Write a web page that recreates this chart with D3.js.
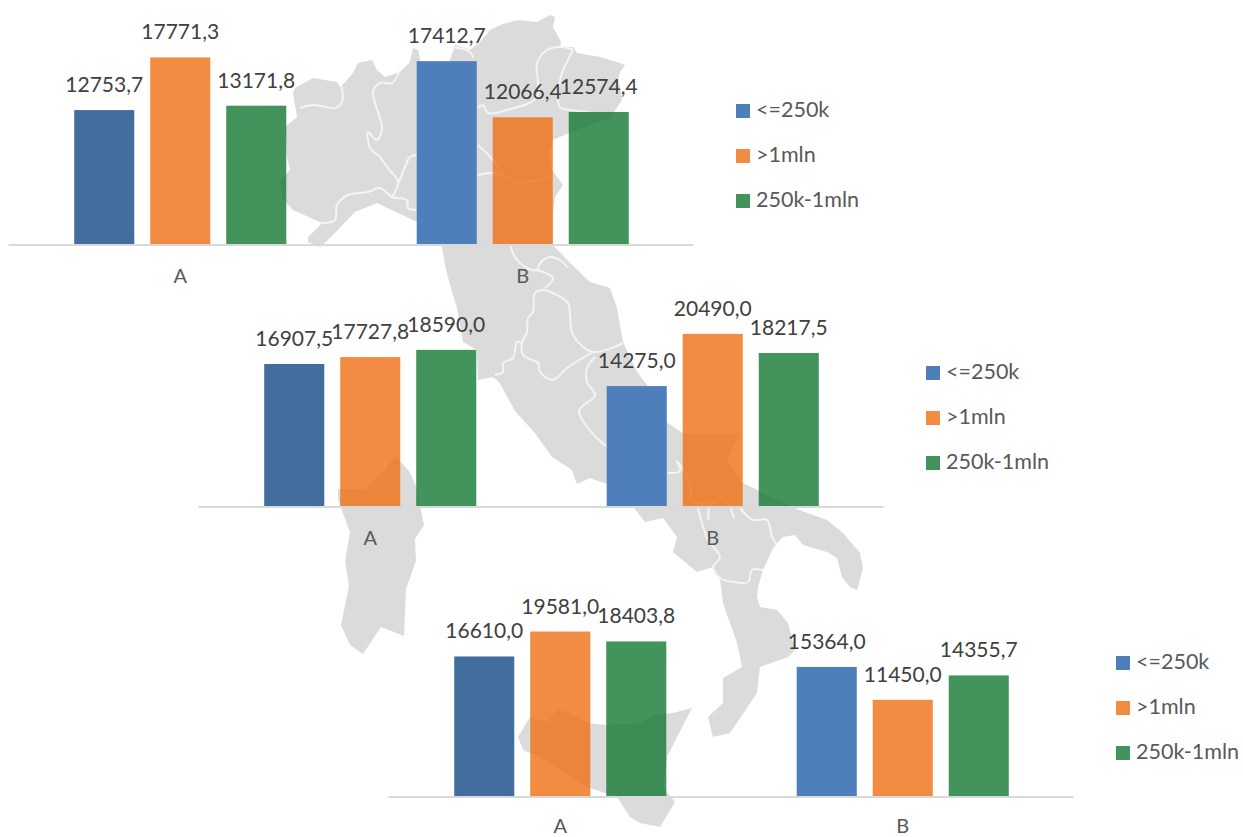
<!DOCTYPE html>
<html>
<head>
<meta charset="utf-8">
<script src="https://cdn.jsdelivr.net/npm/d3@7/dist/d3.min.js"></script>
<style>
html,body{margin:0;padding:0;background:#fff;overflow:hidden}
svg{display:block}
text{font-family:Lato,"Open Sans",sans-serif}
</style>
</head>
<body>
<svg id="chart" width="1243" height="837"></svg>
<script>
// ---------- chart data ----------
const categories = ["A", "B"];
const seriesNames = ["<=250k", ">1mln", "250k-1mln"];
const panel1Values = [[12753.7, 17771.3, 13171.8], [17412.7, 12066.4, 12574.4]];
const panel2Values = [[16907.5, 17727.8, 18590.0], [14275.0, 20490.0, 18217.5]];
const panel3Values = [[16610.0, 19581.0, 18403.8], [15364.0, 11450.0, 14355.7]];
const panelMax = [20000, 25000, 25000];

// ---------- decorative background map of Italy (page pixels) ----------
const mainland = [[293,93],[295,88],[313,78],[337,82],[342,90],[340,88],[353,73],[358,63],[372,60],[377,70],[385,77],[400,72],[410,62],[413,48],[418,50],[420,60],[430,75],[450,60],[455,45],[470,50],[480,42],[490,30],[500,25],[517,20],[537,22],[550,15],[555,17],[553,27],[561,42],[560,47],[573,47],[577,53],[600,57],[617,62],[625,65],[620,72],[618,80],[620,88],[622,100],[610,118],[590,125],[569,133],[553,140],[549,155],[552,170],[563,185],[555,197],[553,215],[553,245],[570,263],[590,282],[610,288],[617,308],[623,342],[637,372],[647,385],[668,423],[684,434],[738,434],[727,461],[741,482],[759,491],[799,510],[827,520],[843,533],[860,553],[863,568],[857,590],[850,587],[842,577],[837,558],[827,552],[803,545],[795,535],[783,537],[773,548],[763,570],[758,587],[757,597],[760,607],[777,610],[788,623],[795,650],[788,657],[760,667],[757,693],[730,733],[713,737],[708,717],[723,703],[723,678],[742,667],[737,643],[723,603],[720,580],[713,567],[697,572],[673,552],[677,537],[663,518],[645,522],[634,508],[607,484],[590,478],[577,484],[572,470],[552,457],[534,432],[515,411],[499,382],[493,377],[478,380],[477,350],[463,342],[457,308],[450,285],[445,265],[442,247],[417,222],[377,203],[355,212],[330,238],[320,247],[308,242],[308,237],[322,223],[293,210],[282,198],[280,180],[290,170],[287,157],[285,127],[297,117]];
const sardinia = [[395,456],[409,471],[416,486],[424,525],[415,539],[416,561],[406,589],[404,636],[381,627],[363,654],[350,645],[341,625],[349,586],[345,561],[350,532],[338,500],[338,489],[366,489],[384,471]];
const sicily = [[518,737],[530,717],[547,722],[557,710],[568,712],[587,723],[607,725],[640,723],[653,715],[673,713],[692,708],[677,737],[667,757],[663,787],[675,802],[660,827],[640,823],[630,817],[617,797],[587,787],[540,757],[523,750]];
const borders = [
 [[300,108],[313,105],[327,107],[335,108],[342,102],[342,87]],
 [[400,70],[392,83],[380,83],[373,92],[375,103],[382,128],[377,140],[368,132],[370,148],[380,157],[387,167],[398,182],[392,197]],
 [[397,187],[405,167],[410,157],[417,155]],
 [[320,223],[335,220],[337,205],[348,195],[368,192],[380,188],[392,197],[407,200],[408,208],[417,210]],
 [[453,47],[470,52],[473,58]],
 [[478,108],[483,105],[488,113],[507,110],[537,97],[537,63],[547,50],[563,47],[573,50]],
 [[573,50],[560,80],[560,107],[570,110],[590,112]],
 [[478,175],[497,173],[520,182],[550,177]],
 [[478,145],[493,160],[507,180]],
 [[510,245],[515,257],[527,268],[537,270],[540,263],[550,257],[560,260],[568,268]],
 [[537,270],[553,278],[545,288]],
 [[545,290],[535,293],[533,312],[528,318],[527,332],[522,343],[523,355],[538,363],[540,372],[553,380],[567,368],[593,352]],
 [[545,290],[557,295],[568,303],[570,315],[573,335],[593,352],[623,343]],
 [[522,343],[517,342],[513,358],[503,363],[503,372],[495,375]],
 [[595,357],[587,368],[587,382],[595,395],[579,411],[595,436],[606,446]],
 [[668,473],[680,471],[677,461],[691,486],[691,500],[709,504],[724,498],[734,518]],
 [[709,504],[708,520]],
 [[698,508],[702,523],[708,540],[720,557],[713,567],[720,578],[733,582],[748,582],[752,570],[763,570]],
 [[740,508],[753,520],[767,520],[772,537],[777,545]]
];

// ---------- layout ----------
const panels = [
  {values: panel1Values, left: 8,   base: 244, labelGap: 24},
  {values: panel2Values, left: 198, base: 506, labelGap: 24},
  {values: panel3Values, left: 388, base: 796, labelGap: 22}
];
const axisWidth = 685, plotHeight = 210;
const blueByCategory = {A: "#436d9d", B: "#4e7fbb"};
const seriesFill = ["#4e7fbb", "#ef6f14", "#137933"];
const seriesOpacity = [1, 0.8, 0.8];
const legendFill = ["#4e7fbb", "#f28c43", "#42945c"];

const svg = d3.select("#chart");
const mapLayer = svg.append("g");
const land = d3.line().curve(d3.curveLinearClosed);
[mainland, sardinia, sicily].forEach(p =>
  mapLayer.append("path").attr("d", land(p)).attr("fill", "#dbdbdb"));
const borderLine = d3.line().curve(d3.curveCatmullRom.alpha(0.5));
mapLayer.selectAll("path.border").data(borders).join("path")
  .attr("class", "border").attr("d", borderLine).attr("fill", "none")
  .attr("stroke", "#f4f4f4").attr("stroke-width", 2).attr("stroke-linejoin", "round");

panels.forEach((panel, pi) => {
  const x = d3.scaleBand().domain(categories).range([0, axisWidth]);
  const inner = d3.scaleBand().domain(seriesNames).range([0, x.bandwidth()])
    .paddingInner(0.21).paddingOuter(0.858);
  const y = d3.scaleLinear().domain([0, panelMax[pi]]).range([panel.base, panel.base - plotHeight]);
  const g = svg.append("g").attr("transform", `translate(${panel.left},0)`);

  categories.forEach((cat, ci) => {
    const cg = g.append("g").attr("transform", `translate(${x(cat) + 1},0)`);
    const rows = panel.values[ci].map((v, si) => ({v, name: seriesNames[si], si}));
    cg.selectAll("rect").data(rows).join("rect")
      .attr("x", d => inner(d.name))
      .attr("width", inner.bandwidth())
      .attr("y", d => y(d.v))
      .attr("height", d => y(0) - y(d.v))
      .attr("fill", d => d.si === 0 ? blueByCategory[cat] : seriesFill[d.si])
      .attr("fill-opacity", d => seriesOpacity[d.si]);
    cg.selectAll("text").data(rows).join("text")
      .attr("x", d => inner(d.name) + inner.bandwidth() / 2)
      .attr("y", d => y(d.v) - 18)
      .attr("text-anchor", "middle")
      .attr("font-size", 21)
      .attr("fill", "#404040")
      .text(d => d.v.toFixed(1).replace(".", ","));
  });

  const axis = g.append("g").attr("transform", `translate(1,${panel.base + 0.5})`)
    .call(d3.axisBottom(x).tickSize(0).tickPadding(panel.labelGap));
  axis.select(".domain").attr("stroke", "#d9d9d9").attr("stroke-width", 2)
    .attr("transform", "translate(-1,0)");
  axis.selectAll("text").attr("font-size", 20).attr("fill", "#595959")
    .style("font-family", "Lato,'Open Sans',sans-serif");

  const legend = svg.append("g")
    .attr("transform", `translate(${panel.left + 728},${panel.base - 140})`);
  const lg = legend.selectAll("g").data(seriesNames).join("g")
    .attr("transform", (d, i) => `translate(0,${i * 45})`);
  lg.append("rect").attr("width", 14).attr("height", 14).attr("fill", (d, i) => legendFill[i]);
  lg.append("text").attr("x", 20).attr("y", 13).attr("font-size", 21.5).attr("fill", "#595959").text(d => d);
});
</script>
</body>
</html>
